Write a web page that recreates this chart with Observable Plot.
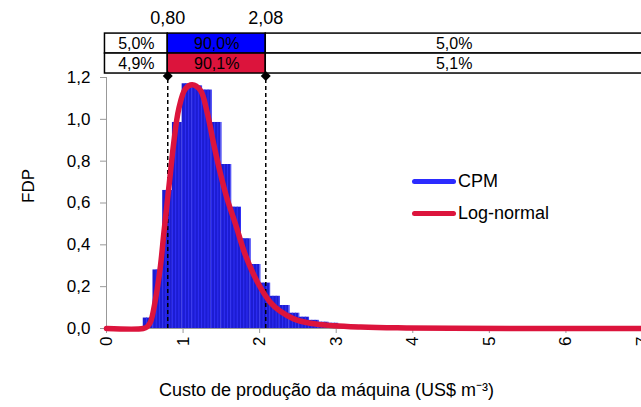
<!DOCTYPE html>
<html><head><meta charset="utf-8">
<script src="https://cdn.jsdelivr.net/npm/d3@7"></script>
<script src="https://cdn.jsdelivr.net/npm/@observablehq/plot@0.6"></script>
<style>
body{margin:0;background:#fff;}
#wrap{position:relative;width:641px;height:407px;overflow:hidden;}
svg{font-family:"Liberation Sans",Arial,sans-serif;}
.leg{position:absolute;left:412px;height:20px;font:18px "Liberation Sans",Arial,sans-serif;display:flex;align-items:center;}
.leg i{display:inline-block;width:44px;height:5px;border-radius:3px;margin-right:2px;}
</style>
</head><body><div id="wrap"></div>
<script>
// Histogram (CPM) – bins of width binWidth starting at binStart
const binStart = 0.48;
const binWidth = 0.127;
const cpmDensity = [0.05,0.28,0.66,0.985,1.17,1.16,1.14,0.985,0.784,0.58,0.429,0.306,0.217,0.154,0.11,0.073,0.054,0.039,0.03,0.025,0.019,0.015,0.012,0.01,0.008,0.006,0.005,0.004,0.003,0.002];

// Log-normal fit curve
const lognormX = [0,0.48,0.53,0.574,0.64,0.705,0.75,0.813,0.879,0.944,1.031,1.119,1.227,1.314,1.401,1.488,1.575,1.684,1.815,1.967,2.14,2.27,2.445,2.66,2.97,3.32,3.8,4.5,7];
const lognormY = [0,0,0.008,0.03,0.14,0.30,0.46,0.67,0.89,1.05,1.146,1.165,1.138,1.034,0.88,0.74,0.62,0.50,0.35,0.225,0.125,0.082,0.046,0.025,0.013,0.007,0.003,0.001,0];

const yTicks = [0,0.2,0.4,0.6,0.8,1.0,1.2];
const xTicks = [0,1,2,3,4,5,6,7];

const quantiles = [0.80, 2.08];
const quantileLabels = ["0,80","2,08"];

const seriesNames = ["CPM","Log-normal"];
const seriesColors = ["#2b2bff","#dc143c"];
const tableLabels = [["5,0%","90,0%","5,0%"],["4,9%","90,1%","5,1%"]];
const tableFills = [["#ffffff","#0000ff","#ffffff"],["#ffffff","#dc143c","#ffffff"]];

const xLabel = "Custo de produção da máquina (US$ m⁻³)";
const yLabel = "FDP";

// ---- derived structures ----
const fmt = d => d.toFixed(1).replace(".", ",");
const bins = cpmDensity.map((v,i)=>({x1: binStart+i*binWidth, x2: binStart+(i+1)*binWidth, v}));
const stripes = bins.flatMap(b => [1,2,3].map(k => ({x: b.x1 + k*binWidth/3, v: b.v})));
const curve = lognormX.map((x,i)=>({x, y: lognormY[i]}));

// table rows live just above the 1.2 top of the y scale
const colEdges = [-0.02, quantiles[0], quantiles[1], 7];
const rowEdges = [[1.3145,1.41],[1.219,1.3145]];
const cells = tableLabels.flatMap((row,r)=>row.map((t,c)=>({
  x1: colEdges[c], x2: colEdges[c+1], y1: rowEdges[r][0], y2: rowEdges[r][1],
  text: t, fill: tableFills[r][c]})));

const chart = Plot.plot({
  width: 641, height: 407,
  marginLeft: 106, marginRight: -1, marginTop: 77, marginBottom: 79,
  style: {fontFamily: '"Liberation Sans", Arial, sans-serif', background: "#fff"},
  x: {domain: [0, 7]},
  y: {domain: [0, 1.2]},
  marks: [
    Plot.axisY({ticks: yTicks, tickFormat: fmt, tickSize: 6, tickPadding: 10, fontSize: 17, stroke: "#999", color: "#000", label: null}),
    Plot.axisX({ticks: xTicks, tickFormat: d => String(d), tickRotate: -90, tickSize: 5, tickPadding: 3, fontSize: 17, stroke: "#999", label: null}),
    Plot.ruleX([0], {y1: 0, y2: 1.2, stroke: "#999"}),
    Plot.ruleY([0], {stroke: "#999"}),
    Plot.rect(bins, {x1: "x1", x2: "x2", y1: 0, y2: "v", fill: "#1c1cd2"}),
    Plot.ruleX(stripes, {x: "x", y1: 0, y2: "v", stroke: "#3030f5", strokeWidth: 1}),
    Plot.ruleX(quantiles, {y1: 0, y2: 1.219, stroke: "#000", strokeWidth: 1.5, strokeDasharray: "4,3"}),
    Plot.line(curve, {x: "x", y: "y", stroke: seriesColors[1], strokeWidth: 5.5, curve: "catmull-rom", strokeLinejoin: "round"}),
    Plot.rect(cells, {x1: "x1", x2: "x2", y1: "y1", y2: "y2", fill: "fill", stroke: "#000", strokeWidth: 1.5}),
    Plot.text(cells, {x: d => (d.x1+d.x2)/2, y: d => (d.y1+d.y2)/2, text: "text", fontSize: 16, fill: "#000"}),
    Plot.dot(quantiles, {x: d => d, y: 1.207, symbol: "diamond2", r: 4.5, fill: "#000", stroke: "none"}),
    Plot.text(quantiles, {x: d => d, y: 1.482, text: (d,i) => quantileLabels[i], fontSize: 18, fill: "#000"}),
    Plot.text([yLabel], {frameAnchor: "left", dx: -78, rotate: -90, fontSize: 17, fill: "#000"}),
    Plot.text([xLabel], {frameAnchor: "bottom", dx: -48, dy: 67, fontSize: 18, fill: "#000"})
  ]
});
const wrap = document.getElementById("wrap");
wrap.appendChild(chart);

// legend
seriesNames.forEach((n,i)=>{
  const d = document.createElement("div");
  d.className = "leg";
  d.style.top = (171 + i*32) + "px";
  d.innerHTML = `<i style="background:${seriesColors[i]}"></i><span>${n}</span>`;
  wrap.appendChild(d);
});
</script>
</body></html>
